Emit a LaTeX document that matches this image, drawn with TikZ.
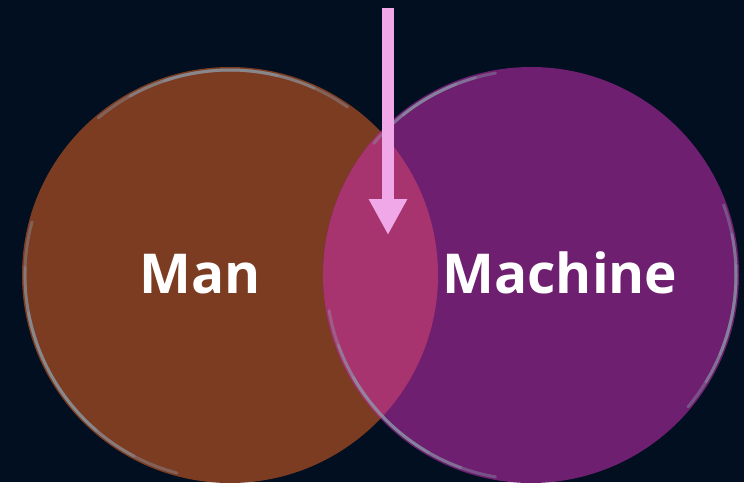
\documentclass[tikz,border=0pt]{standalone}
\usepackage{fontspec}
\setmainfont{Open Sans}
\usetikzlibrary{arrows.meta}
\definecolor{bgnavy}{HTML}{010F20}
\definecolor{manfill}{HTML}{7C3C22}
\definecolor{machfill}{HTML}{6E1F70}
\definecolor{bothfill}{HTML}{A8346F}
\definecolor{arrowpink}{HTML}{F0A8E8}
\definecolor{rimgray}{HTML}{8C9CAA}
% a rim highlight that fades towards both ends: #1 centre, #2 start, #3 end angle
\newcommand{\rimglow}[3]{%
  \foreach \k in {0,1,2}{%
    \pgfmathsetmacro{\sa}{#2+\k*(#3-#2)/7}%
    \pgfmathsetmacro{\ea}{#3-\k*(#3-#2)/7}%
    \draw[rim] ([shift={(\sa:205pt)}]#1) arc[start angle=\sa,end angle=\ea,radius=205pt];
  }}
\begin{document}
\begin{tikzpicture}[x=1pt,y=-1pt,
  label/.style={text=white,font=\bfseries\fontsize{55}{58}\selectfont,inner sep=0pt,anchor=base},
  rim/.style={draw=rimgray,line width=3pt,opacity=0.4,line cap=round}]
  \fill[bgnavy] (0,0) rectangle (744,482);
  \useasboundingbox (0,0) rectangle (744,482);
  % the two sets
  \coordinate (cman) at (230,275);
  \coordinate (cmach) at (531,275);
  \fill[manfill] (cman) circle[radius=208pt];
  \fill[machfill] (cmach) circle[radius=208pt];
  % their overlap
  \begin{scope}
    \clip (cman) circle[radius=208pt];
    \fill[bothfill] (cmach) circle[radius=208pt];
  \end{scope}
  % soft rims on the discs
  \rimglow{cman}{55}{130}
  \rimglow{cman}{165}{255}
  \rimglow{cmach}{100}{140}
  \rimglow{cmach}{-40}{20}
  \rimglow{cmach}{190}{260}
  % labels
  \node[label] (man) at (200,293) {Man};
  \node[label] (machine) at (560,293) {Machine};
  % arrow into the overlap
  \coordinate (atop) at (388,8);
  \coordinate (atip) at (388,235);
  \draw[arrowpink,line width=12pt,-{Triangle[length=36pt,width=36pt]}] (atop) -- (atip);
\end{tikzpicture}
\end{document}
